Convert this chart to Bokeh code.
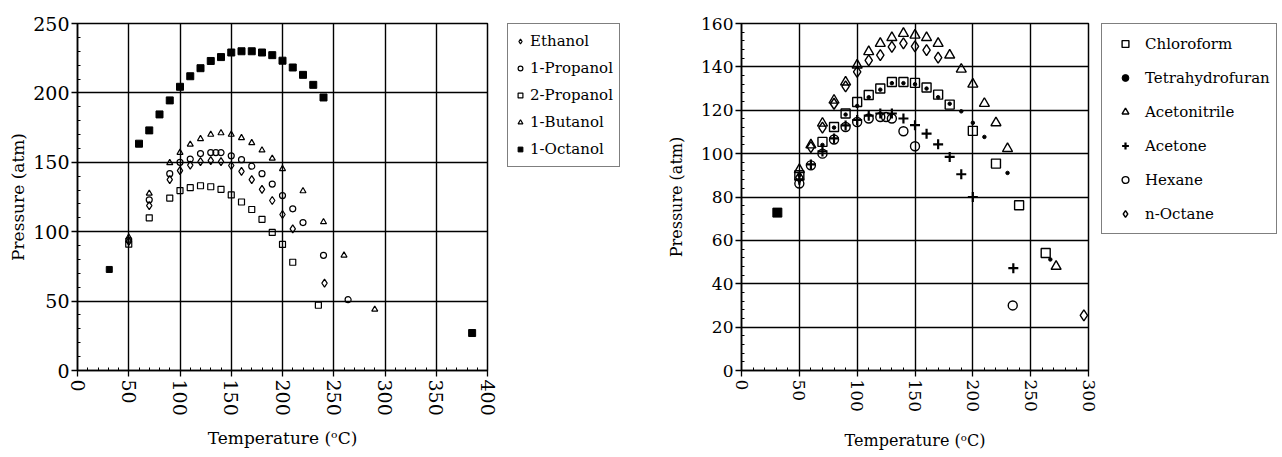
from bokeh.plotting import figure
from bokeh.layouts import row
from bokeh.models import SingleIntervalTicker, Legend, LegendItem
from bokeh.embed import file_html
from bokeh.resources import INLINE

FONT = "DejaVu Serif"

# ---------------- Alcohols (left panel) ----------------
ethanol_t = [50, 70, 90, 100, 110, 120, 130, 140, 150, 160, 170, 180, 190, 200, 210, 241]
ethanol_p = [93, 118.8, 137.5, 144, 148, 150.5, 151.2, 150.5, 147.7, 143.5, 137.5, 130.5, 122.5, 112.4, 102, 63]

propanol1_t = [50, 70, 90, 100, 110, 120, 130, 135, 140, 150, 160, 170, 180, 190, 200, 210, 220, 240, 264]
propanol1_p = [94, 123, 141.8, 150, 152.3, 156.3, 157, 157, 157, 154.7, 151.9, 147.2, 141.8, 134.3, 126, 116.5, 106.6, 83, 51]

propanol2_t = [50, 70, 90, 100, 110, 120, 130, 140, 150, 160, 170, 180, 190, 200, 210, 235]
propanol2_p = [91, 110, 124.2, 129.6, 131.7, 133.1, 132.4, 130.5, 126.5, 121.4, 116, 108.9, 99.5, 90.8, 78, 47]

butanol_t = [50, 70, 90, 100, 110, 120, 130, 140, 150, 160, 170, 180, 190, 200, 220, 240, 260, 290]
butanol_p = [96, 127.6, 149.6, 157, 162.9, 166.9, 170, 171.1, 170, 167.6, 164, 158.7, 152.8, 145.3, 129.3, 107, 83, 44]

octanol_t = [60, 70, 80, 90, 100, 110, 120, 130, 140, 150, 160, 170, 180, 190, 200, 210, 220, 230, 240, 385]
octanol_p = [163.4, 173, 184.5, 194.6, 204.4, 212, 217.8, 223, 225.8, 229.1, 230, 230, 229.1, 227.2, 223.2, 218.3, 213, 205.8, 196.7, 27]

# critical point of carbon dioxide, plotted on both panels
co2_t = [31]
co2_p = [72.8]

# ---------------- Other solvents (right panel) ----------------
chloroform_t = [50, 70, 80, 90, 100, 110, 120, 130, 140, 150, 160, 170, 180, 200, 220, 240, 263]
chloroform_p = [90, 105.4, 112.3, 118.5, 123.8, 127, 130, 133, 133, 132.6, 130.5, 127.2, 122.6, 110.5, 95.4, 76.2, 54.2]

thf_t = [50, 70, 80, 90, 100, 110, 120, 130, 140, 150, 160, 170, 180, 190, 200, 210, 230, 267]
thf_p = [90, 104, 112, 118, 122, 126, 129.5, 132.5, 132.5, 132, 130, 126, 123, 119.5, 114.2, 107.7, 91.1, 51.2]

acetonitrile_t = [50, 60, 70, 80, 90, 100, 110, 120, 130, 140, 150, 160, 170, 180, 190, 200, 210, 220, 230, 272]
acetonitrile_p = [92.6, 104, 114, 124.6, 133, 140.8, 147, 150.8, 153.5, 155.4, 154.6, 153.5, 150.8, 145.4, 138.9, 132, 123.1, 114.2, 102.3, 48]

acetone_t = [50, 60, 70, 80, 90, 100, 110, 120, 130, 140, 150, 160, 170, 180, 190, 200, 235]
acetone_p = [88, 95, 101, 107, 113, 115.5, 117.5, 118.5, 118.5, 116.2, 113.1, 109.2, 104.3, 98.5, 90.5, 80, 47.2]

hexane_t = [50, 60, 70, 80, 90, 100, 110, 120, 125, 130, 140, 150, 234.5]
hexane_p = [86.2, 94.6, 100, 106.5, 112.3, 114.6, 116.2, 116.9, 116.9, 116.2, 110.3, 103.4, 30]

octane_t = [50, 60, 70, 80, 90, 100, 110, 120, 130, 140, 150, 160, 170, 296]
octane_p = [89, 103, 112, 123, 131, 137.7, 143, 145.4, 149.2, 150.8, 149.5, 147.7, 144.3, 25.4]

# marker styles per series: (label, x, y, marker, size, filled, line width)
left_series = [
    ("Ethanol", ethanol_t, ethanol_p, "diamond", 8, False, 1.2),
    ("1-Propanol", propanol1_t, propanol1_p, "circle", 6, False, 1.2),
    ("2-Propanol", propanol2_t, propanol2_p, "square", 6, False, 1.2),
    ("1-Butanol", butanol_t, butanol_p, "triangle", 6, False, 1.2),
    ("1-Octanol", octanol_t, octanol_p, "square", 7, True, 1.0),
]
right_series = [
    ("Chloroform", chloroform_t, chloroform_p, "square", 9, False, 1.4),
    ("Tetrahydrofuran", thf_t, thf_p, "circle", 3.5, True, 1.0),
    ("Acetonitrile", acetonitrile_t, acetonitrile_p, "triangle", 10, False, 1.4),
    ("Acetone", acetone_t, acetone_p, "cross", 10, False, 2.2),
    ("Hexane", hexane_t, hexane_p, "circle", 9, False, 1.4),
    ("n-Octane", octane_t, octane_p, "diamond", 11, False, 1.4),
]


def add_points(p, xs, ys, marker, size, filled, lw):
    return p.scatter(xs, ys, marker=marker, size=size,
                     fill_color="black" if filled else None,
                     line_color="black", line_width=lw)


def style_axes(p, xstep, ystep, tick_size, label_size):
    p.xaxis.ticker = SingleIntervalTicker(interval=xstep, num_minor_ticks=5)
    p.yaxis.ticker = SingleIntervalTicker(interval=ystep, num_minor_ticks=5)
    p.xgrid.ticker = SingleIntervalTicker(interval=xstep)
    p.ygrid.ticker = SingleIntervalTicker(interval=ystep)
    for g in (p.xgrid, p.ygrid):
        g.grid_line_color = "black"
        g.grid_line_width = 1.4
        g.grid_line_alpha = 1.0
    for ax in (p.xaxis, p.yaxis):
        ax.axis_line_color = "black"
        ax.axis_line_width = 1.5
        ax.major_tick_line_color = "black"
        ax.major_tick_line_width = 1.3
        ax.minor_tick_line_color = "black"
        ax.major_tick_out = 6
        ax.major_tick_in = 0
        ax.minor_tick_in = 3
        ax.minor_tick_out = 0
        ax.major_label_text_font = FONT
        ax.major_label_text_font_size = tick_size
        ax.major_label_text_color = "black"
        ax.axis_label_text_font = FONT
        ax.axis_label_text_font_size = label_size
        ax.axis_label_text_font_style = "normal"
        ax.axis_label_text_color = "black"
    p.xaxis.major_label_orientation = "vertical"
    p.xaxis.major_label_standoff = 3
    p.yaxis.major_label_standoff = 2
    p.outline_line_color = "black"
    p.outline_line_width = 1.5
    p.background_fill_color = "white"
    p.border_fill_color = "white"


def legend_box(width, series, left, top, glyph_w, glyph_h, row_h, spacing, standoff):
    """Stand-alone legend column. Each key renderer carries its series, but the
    column's ranges lie below zero so that only the legend box is seen."""
    lf = figure(width=width, height=457, x_range=(-2, -1), y_range=(-2, -1),
                output_backend="svg", toolbar_location=None,
                x_axis_type=None, y_axis_type=None,
                min_border_left=left, min_border_right=0, min_border_top=top, min_border_bottom=0)
    lf.outline_line_color = None
    lf.xgrid.visible = False
    lf.ygrid.visible = False
    items = []
    for label, xs, ys, marker, size, filled, lw in series:
        r = add_points(lf, xs, ys, marker, size, filled, lw)
        items.append(LegendItem(label=label, renderers=[r]))
    leg = Legend(items=items, location="top_left")
    leg.label_text_font = FONT
    leg.label_text_font_size = "15px"
    leg.label_text_color = "black"
    leg.padding = 6
    leg.margin = 0
    leg.glyph_width = glyph_w
    leg.glyph_height = glyph_h
    leg.label_height = row_h
    leg.spacing = spacing
    leg.label_standoff = standoff
    leg.border_line_color = "black"
    leg.border_line_width = 1.5
    leg.background_fill_color = "white"
    leg.background_fill_alpha = 1.0
    lf.add_layout(leg, "center")
    return lf


# ---------------- left panel ----------------
p1 = figure(width=500, height=457, x_range=(0, 400), y_range=(0, 250),
            output_backend="svg", toolbar_location=None,
            min_border_left=77, min_border_right=13, min_border_top=23, min_border_bottom=79,
            x_axis_label="Temperature (ᵒC)", y_axis_label="Pressure (atm)")
style_axes(p1, 50, 50, "19px", "17px")
p1.xaxis.axis_label_standoff = 9
p1.yaxis.axis_label_standoff = 2
for _label, xs, ys, marker, size, filled, lw in left_series:
    add_points(p1, xs, ys, marker, size, filled, lw)
p1.scatter(co2_t, co2_p, marker="square", size=6, fill_color="black", line_color="black")

leg_left = legend_box(150, left_series, 7, 23, 12, 14, 22, 5, 4)

# ---------------- right panel ----------------
p2 = figure(width=450, height=457, x_range=(0, 300), y_range=(0, 160),
            output_backend="svg", toolbar_location=None,
            min_border_left=91, min_border_right=12, min_border_top=23, min_border_bottom=87,
            x_axis_label="Temperature (ᵒC)", y_axis_label="Pressure (atm)")
style_axes(p2, 50, 20, "17px", "16px")
p2.xaxis.axis_label_standoff = 16
p2.yaxis.axis_label_standoff = 12
for _label, xs, ys, marker, size, filled, lw in right_series:
    add_points(p2, xs, ys, marker, size, filled, lw)
p2.scatter(co2_t, co2_p, marker="square", size=9, fill_color="black", line_color="black")

leg_right = legend_box(182, right_series, 1, 21, 34, 17, 27, 7, 3)

layout = row(p1, leg_left, p2, leg_right, spacing=0)
open("out.html", "w").write(file_html(layout, INLINE))
